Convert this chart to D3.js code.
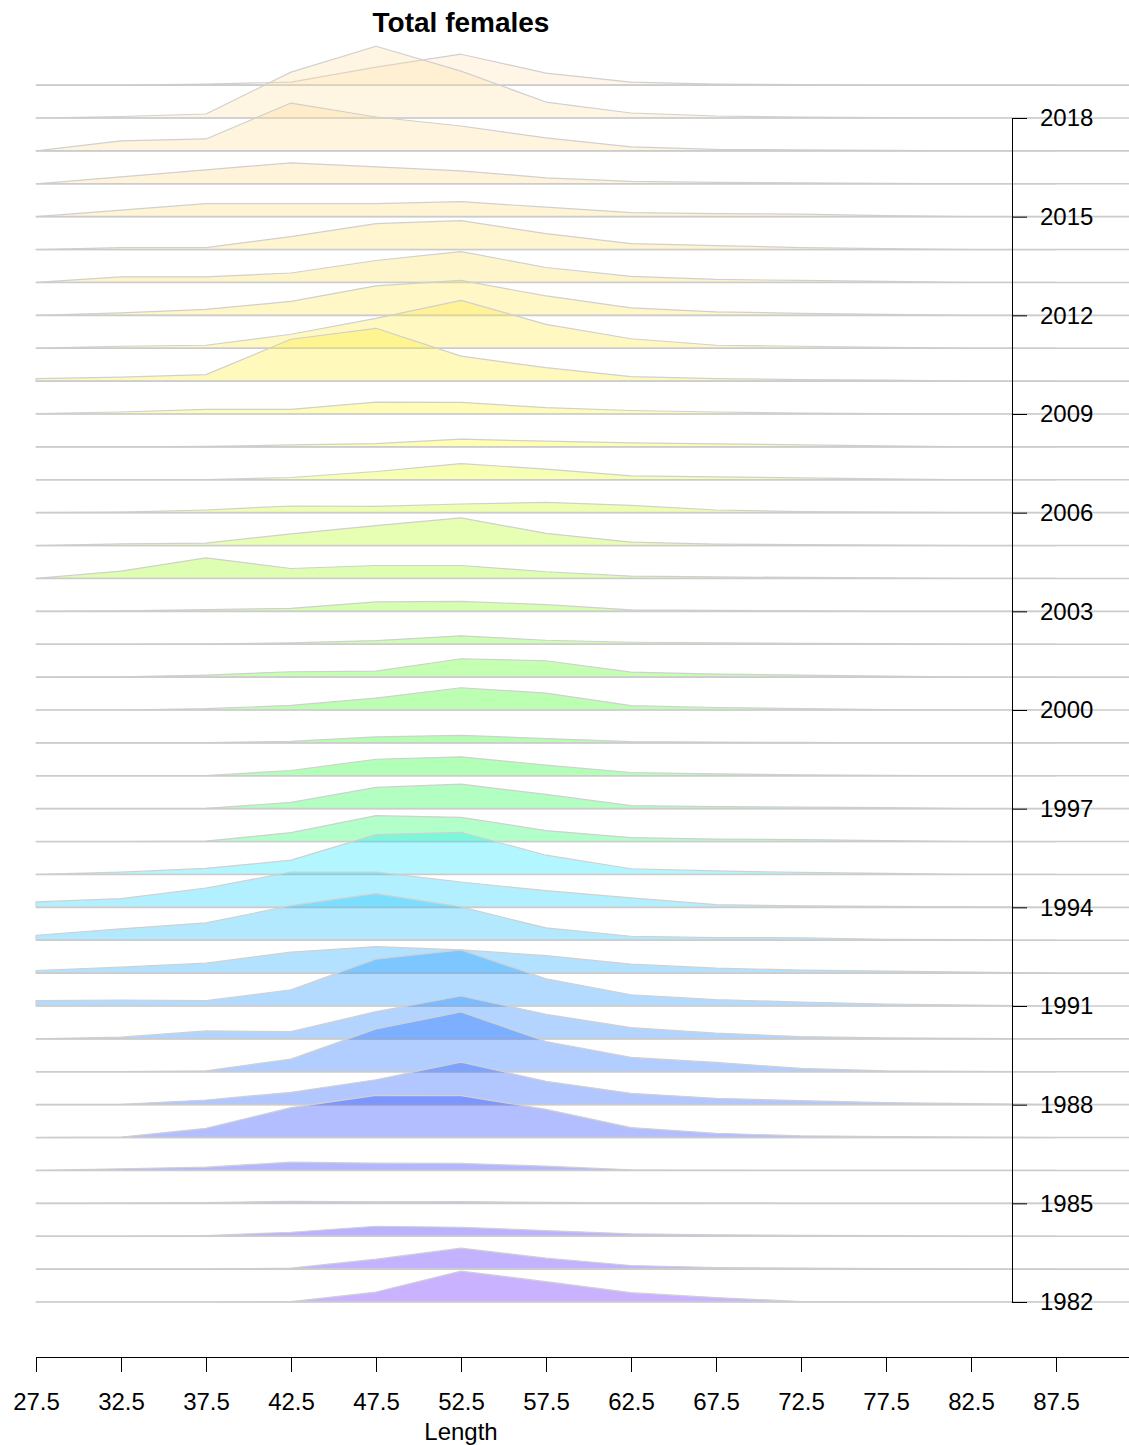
<!DOCTYPE html>
<html>
<head>
<meta charset="utf-8">
<script src="https://cdn.jsdelivr.net/npm/d3@7"></script>
<style>
body { margin: 0; background: #fff; }
svg text { font-family: "Liberation Sans", Arial, sans-serif; }
</style>
</head>
<body>
<svg id="chart" width="1129" height="1445"></svg>
<script>
// length classes (cm) and years
const lengthBins = [27.5, 32.5, 37.5, 42.5, 47.5, 52.5, 57.5, 62.5, 67.5, 72.5, 77.5, 82.5, 87.5];
const years = d3.range(1982, 2020);
const yearTicks = [1982, 1985, 1988, 1991, 1994, 1997, 2000, 2003, 2006, 2009, 2012, 2015, 2018];

// relative frequency by length class, one array per year
const freq1982 = [0, 0, 0, 0.3, 10, 31, 20.4, 9.4, 4.4, 0.5, 0, 0, 0];
const freq1983 = [0, 0, 0, 1, 10, 21, 11, 3.6, 1.5, 1, 0.5, 0, 0];
const freq1984 = [0, 0, 0.7, 4, 10, 9, 5.7, 2.4, 1.5, 1, 0.5, 0, 0];
const freq1985 = [0, 0.3, 0.7, 2, 1.5, 1.7, 1, 0.5, 0.3, 0, 0, 0, 0];
const freq1986 = [0, 1.7, 3.3, 8.3, 7.3, 7, 4.3, 0.7, 0.3, 0, 0, 0, 0];
const freq1987 = [0, 0.5, 9.3, 30, 42.3, 42, 28.3, 10, 4.3, 1.7, 1, 0.5, 0];
const freq1988 = [0, 0.3, 4.7, 12.4, 25, 42.7, 23.4, 11.4, 6.4, 4, 2, 1, 0];
const freq1989 = [0, 0.2, 1, 12.7, 43, 60, 30.4, 14.4, 9.4, 3.4, 1, 0.5, 0];
const freq1990 = [0, 1.7, 8, 7.3, 27.3, 43, 24.7, 11.3, 5.7, 2.3, 1, 0.5, 0];
const freq1991 = [5.3, 6, 5.3, 16.3, 47, 56.3, 27.3, 11.3, 6.3, 4, 2, 1, 0];
const freq1992 = [2.6, 6, 10, 21, 26.6, 23.3, 17.6, 9, 5, 3, 2, 1, 0];
const freq1993 = [5, 11.4, 17.4, 34.7, 46.7, 33.4, 12.4, 4, 2.7, 2.5, 1, 0.5, 0];
const freq1994 = [5.4, 8.7, 19.4, 35.4, 35.4, 25.4, 16.7, 9.4, 2.7, 1.5, 1, 0.5, 0];
const freq1995 = [0, 2.3, 6, 14.3, 40, 42.3, 19.3, 5.7, 3.5, 2, 1, 0, 0];
const freq1996 = [0, 0, 0.5, 9, 26, 24.3, 11, 4, 2.5, 2, 1, 0, 0];
const freq1997 = [0, 0, 0.3, 6.3, 21.3, 24.6, 14.3, 3, 2, 1.5, 1, 0, 0];
const freq1998 = [0, 0, 0.3, 5.3, 16.6, 19, 10.6, 3.3, 2, 1, 0.5, 0, 0];
const freq1999 = [0, 0, 0.2, 1.6, 6, 7.6, 4.3, 1.3, 0.8, 0.5, 0, 0, 0];
const freq2000 = [0, 0, 1.3, 4.6, 12, 22.3, 17, 4.3, 2.5, 1.5, 0.5, 0, 0];
const freq2001 = [0, 0.2, 2, 5.4, 6, 18.4, 16.4, 5, 3, 2, 1, 0, 0];
const freq2002 = [0, 0, 0.3, 1.4, 3.7, 8.4, 4, 2, 1.5, 1, 0.5, 0, 0];
const freq2003 = [0, 0.5, 1.7, 3, 9.4, 10, 6.7, 1.4, 1, 0.5, 0, 0, 0];
const freq2004 = [0, 7.3, 20.7, 10, 13, 13, 6.7, 2.3, 1.5, 1, 0.5, 0, 0];
const freq2005 = [0, 1.7, 2.4, 11.7, 20, 27.7, 12.3, 3.4, 1.5, 1, 0.5, 0, 0];
const freq2006 = [0, 0.5, 2.7, 6.7, 6.3, 8.7, 10.3, 7.3, 2.7, 1, 0.5, 0, 0];
const freq2007 = [0, 0, 0.3, 2.3, 8.3, 16.3, 10.7, 4, 3, 2, 1, 0, 0];
const freq2008 = [0, 0, 0.5, 2, 3.3, 7.7, 5.7, 4, 3, 2, 1, 0, 0];
const freq2009 = [0.5, 2, 4.7, 4.7, 12, 11.7, 6.3, 3.5, 2, 1, 0.5, 0, 0];
const freq2010 = [2.5, 4, 6.5, 42, 53, 25, 13.5, 4.5, 2.5, 1.5, 1, 0, 0];
const freq2011 = [0, 2, 3, 14, 30, 48, 24, 9.5, 3, 2, 1, 0, 0];
const freq2012 = [0, 2.5, 6, 14, 29.5, 35, 19.5, 7.5, 3.5, 2, 1, 0, 0];
const freq2013 = [0, 5.5, 5.5, 9.5, 22, 31, 15, 6, 3, 2, 1, 0, 0];
const freq2014 = [0, 2, 2, 13, 26, 29, 16, 6, 4, 2, 1, 0, 0];
const freq2015 = [0, 6.5, 13, 13, 13, 15, 9.5, 4, 3, 2.5, 1, 0, 0];
const freq2016 = [0, 7, 14, 21, 17, 13, 6, 2.5, 1.5, 1, 0.5, 0, 0];
const freq2017 = [0, 10, 12, 48, 34, 25, 13, 4, 1.5, 1, 0.5, 0, 0];
const freq2018 = [0, 1.5, 4, 46, 72, 47, 16, 5, 2, 1, 0.5, 0, 0];
const freq2019 = [0, 0, 1, 3, 18, 31, 12, 3, 1, 0.5, 0, 0, 0];

const freqByYear = [
    freq1982, freq1983, freq1984, freq1985, freq1986, freq1987, freq1988, freq1989,
    freq1990, freq1991, freq1992, freq1993, freq1994, freq1995, freq1996, freq1997,
    freq1998, freq1999, freq2000, freq2001, freq2002, freq2003, freq2004, freq2005,
    freq2006, freq2007, freq2008, freq2009, freq2010, freq2011, freq2012, freq2013,
    freq2014, freq2015, freq2016, freq2017, freq2018, freq2019,
];

// hsv -> rgb string with alpha
function hsv(hue, s, v, a) {
    const h6 = (hue % 1) * 6;
    const i = Math.floor(h6);
    const f = h6 - i;
    const p = v * (1 - s), q = v * (1 - s * f), t = v * (1 - s * (1 - f));
    const rgb = [[v, t, p], [q, v, p], [p, v, t], [p, q, v], [t, p, v], [v, p, q]][i % 6];
    return `rgba(${rgb.map(c => Math.round(c * 255)).join(',')},${a})`;
}

// same palette as R's topo.colors()
function topoColors(n, alpha) {
    const j = Math.floor(n / 3), k = Math.floor(n / 3), i = n - j - k;
    const seq = (a, b, m) => d3.range(m).map(t => m === 1 ? a : a + (b - a) * t / (m - 1));
    const part1 = seq(43 / 60, 31 / 60, i).map(hh => hsv(hh, 1, 1, alpha));
    const part2 = seq(23 / 60, 11 / 60, j).map(hh => hsv(hh, 1, 1, alpha));
    const sat = seq(1, 0.3, k);
    const part3 = seq(10 / 60, 6 / 60, k).map((hh, idx) => hsv(hh, sat[idx], 1, alpha));
    return part1.concat(part2, part3);
}

const colors = topoColors(years.length, 0.3);

const plotRight = 1129;
const x = d3.scaleLinear().domain([27.5, 87.5]).range([36, 1056]);
const y = d3.scaleLinear().domain([1982, 2018]).range([1302, 118]);
const step = y(1982) - y(1983);
const hScale = d3.scaleLinear().domain([0, 33]).range([0, step]);

const svg = d3.select('#chart');

// Ridges, drawn from the top year down
const ridges = svg.append('g').attr('class', 'ridges');
years.slice().reverse().forEach((year) => {
    const idx = year - 1982;
    const base = y(year);
    const area = d3.area()
        .x((d, i) => x(lengthBins[i]))
        .y0(base)
        .y1(d => base - hScale(d));

    ridges.append('path')
        .attr('d', area(freqByYear[idx]))
        .attr('fill', colors[idx])
        .attr('stroke', '#d0d0d0')
        .attr('stroke-width', 1.2)
        .attr('stroke-linejoin', 'round');

    ridges.append('line')
        .attr('x1', x(27.5))
        .attr('x2', plotRight)
        .attr('y1', base)
        .attr('y2', base)
        .attr('stroke', '#cccccc')
        .attr('stroke-width', 1.6);
});

// Right axis: years
const yAxis = d3.axisRight(y)
    .tickValues(yearTicks)
    .tickFormat(d3.format('d'))
    .tickSize(15)
    .tickSizeOuter(0)
    .tickPadding(13);

svg.append('g')
    .attr('transform', 'translate(1012,0)')
    .call(yAxis)
    .call(g => g.selectAll('text').attr('font-size', 24).attr('fill', '#000'))
    .call(g => g.selectAll('path, line').attr('stroke', '#000'));

// Bottom axis: length
const xAxisScale = x.copy().domain([27.5, x.invert(plotRight)]).range([36, plotRight]);
const xAxis = d3.axisBottom(xAxisScale)
    .tickValues(lengthBins)
    .tickFormat(d3.format('.1f'))
    .tickSize(15)
    .tickSizeOuter(0)
    .tickPadding(21);

svg.append('g')
    .attr('transform', 'translate(0,1357)')
    .call(xAxis)
    .call(g => g.selectAll('text').attr('font-size', 24).attr('fill', '#000'))
    .call(g => g.selectAll('path, line').attr('stroke', '#000'));

// Axis label
svg.append('text')
    .attr('x', 461)
    .attr('y', 1440)
    .attr('text-anchor', 'middle')
    .attr('font-size', 24)
    .text('Length');

// Title
svg.append('text')
    .attr('x', 461)
    .attr('y', 32)
    .attr('text-anchor', 'middle')
    .attr('font-size', 28)
    .attr('font-weight', 'bold')
    .text('Total females');
</script>
</body>
</html>
